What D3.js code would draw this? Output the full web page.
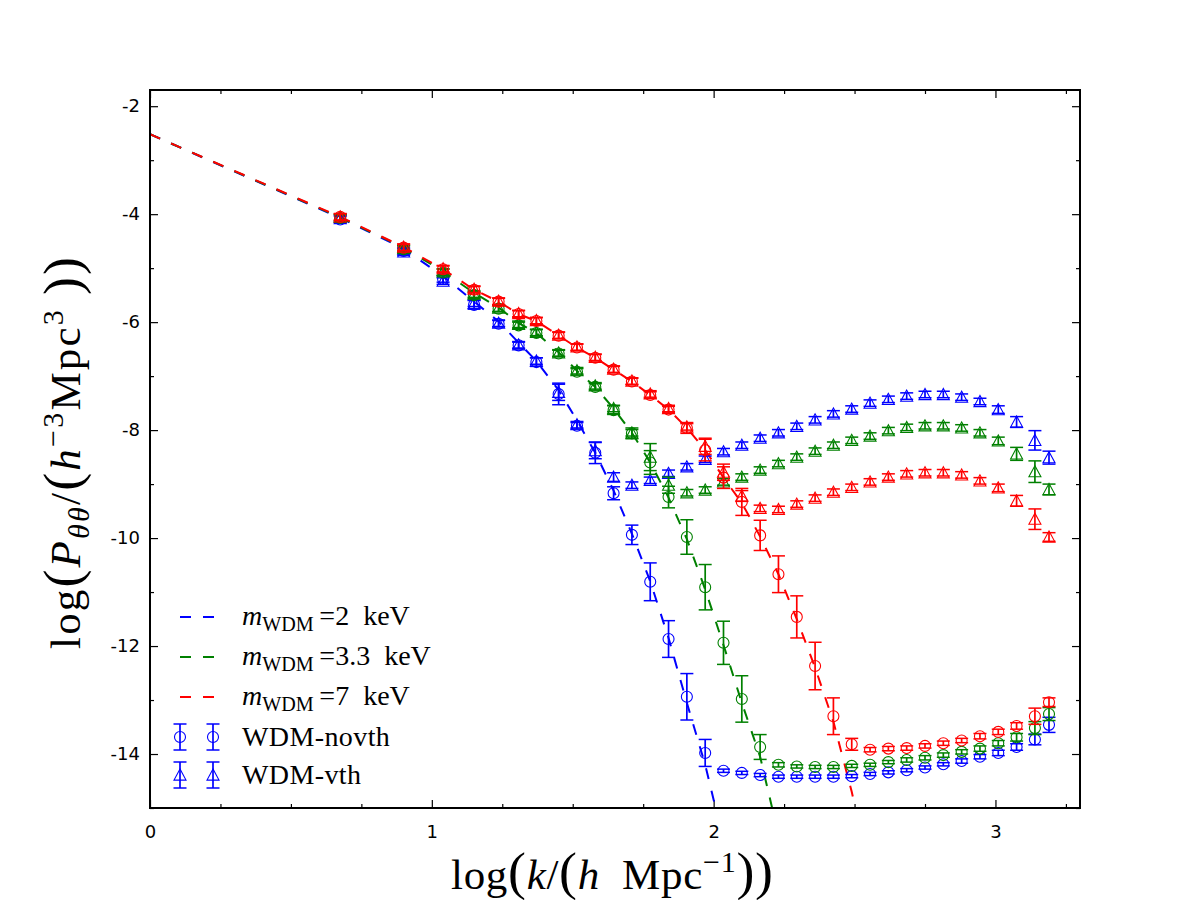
<!DOCTYPE html>
<meta charset="utf-8">
<script src="https://d3js.org/d3.v7.min.js"></script>
<style>
  body { margin: 0; background: #fff; }
</style>
<div id="chart"></div>
<script>

// log(k) positions of the measured bins
var kx = [0.675, 0.90, 1.04, 1.15, 1.237, 1.308, 1.371, 1.45, 1.515, 1.58, 1.645, 1.71, 1.775, 1.84, 1.905, 1.97,
  2.035, 2.10, 2.165, 2.23, 2.295, 2.36, 2.425, 2.49, 2.555, 2.62, 2.685, 2.75, 2.815, 2.88, 2.945, 3.01, 3.075, 3.14, 3.19];

// WDM-novth (circles)
var novth2 = [-4.10, -4.68, -5.20, -5.68, -6.03, -6.43, -6.74, -7.33, -7.92, -8.42, -9.17, -9.94, -10.81, -11.87, -12.94, -13.98,
  -14.31, -14.35, -14.39, -14.42, -14.42, -14.42, -14.42, -14.41, -14.37, -14.34, -14.30, -14.25, -14.19, -14.13, -14.05, -13.98, -13.87, -13.73, -13.46];
var novth2Err = [0.06, 0.06, 0.06, 0.08, 0.06, 0.06, 0.08, 0.2, 0.06, 0.2, 0.12, 0.18, 0.35, 0.34, 0.43, 0.25,
  0.03, 0.03, 0.03, 0.03, 0.03, 0.03, 0.03, 0.03, 0.03, 0.03, 0.03, 0.03, 0.03, 0.04, 0.04, 0.05, 0.06, 0.1, 0.14];
var novth33 = [-4.07, -4.65, -5.08, -5.50, -5.75, -6.06, -6.20, -6.58, -6.92, -7.20, -7.63, -8.06, -8.60, -9.24, -9.98, -10.91,
  -11.94, -12.98, -13.87, -14.20, -14.23, -14.24, -14.24, -14.22, -14.20, -14.15, -14.11, -14.07, -14.02, -13.96, -13.90, -13.80, -13.69, -13.52, -13.26];
var novth33Err = [0.06, 0.06, 0.06, 0.06, 0.06, 0.06, 0.06, 0.06, 0.06, 0.06, 0.08, 0.1, 0.22, 0.2, 0.32, 0.42,
  0.4, 0.43, 0.23, 0.04, 0.03, 0.03, 0.03, 0.03, 0.03, 0.03, 0.04, 0.04, 0.04, 0.04, 0.05, 0.05, 0.07, 0.12, 0.12];
var novth7 = [-4.05, -4.62, -5.02, -5.40, -5.62, -5.85, -5.98, -6.25, -6.47, -6.66, -6.88, -7.10, -7.35, -7.62, -7.96, -8.37,
  -8.88, -9.33, -9.95, -10.67, -11.46, -12.37, -13.30, -13.82, -13.92, -13.90, -13.89, -13.85, -13.80, -13.75, -13.67, -13.59, -13.48, -13.30, -13.04];
var novth7Err = [0.06, 0.06, 0.06, 0.06, 0.06, 0.06, 0.06, 0.06, 0.06, 0.06, 0.06, 0.06, 0.06, 0.06, 0.1, 0.2,
  0.2, 0.25, 0.28, 0.34, 0.39, 0.44, 0.34, 0.11, 0.04, 0.04, 0.04, 0.04, 0.04, 0.04, 0.05, 0.05, 0.06, 0.15, 0.08];

// WDM-vth (triangles)
var vth2 = [-4.08, -4.70, -5.24, -5.65, -6.02, -6.42, -6.72, -7.30, -7.90, -8.38, -8.87, -9.02, -8.93, -8.80, -8.68, -8.54,
  -8.40, -8.28, -8.15, -8.05, -7.93, -7.81, -7.70, -7.61, -7.50, -7.43, -7.37, -7.34, -7.34, -7.39, -7.47, -7.62, -7.85, -8.19, -8.51];
var vth2Err = [0.06, 0.06, 0.06, 0.06, 0.06, 0.06, 0.06, 0.15, 0.06, 0.15, 0.08, 0.06, 0.06, 0.06, 0.06, 0.06,
  0.06, 0.06, 0.06, 0.06, 0.06, 0.06, 0.06, 0.06, 0.06, 0.06, 0.06, 0.06, 0.06, 0.06, 0.06, 0.07, 0.1, 0.18, 0.12];
var vth33 = [-4.06, -4.64, -5.07, -5.48, -5.74, -6.04, -6.19, -6.57, -6.90, -7.18, -7.60, -8.05, -8.50, -9.02, -9.16, -9.11,
  -8.96, -8.87, -8.74, -8.62, -8.50, -8.39, -8.28, -8.19, -8.11, -8.01, -7.95, -7.92, -7.92, -7.96, -8.05, -8.20, -8.44, -8.77, -9.10];
var vth33Err = [0.06, 0.06, 0.06, 0.06, 0.06, 0.06, 0.06, 0.06, 0.06, 0.06, 0.06, 0.06, 0.25, 0.15, 0.06, 0.06,
  0.06, 0.06, 0.06, 0.06, 0.06, 0.06, 0.06, 0.06, 0.06, 0.06, 0.06, 0.06, 0.06, 0.06, 0.06, 0.07, 0.12, 0.2, 0.1];
var vth7 = [-4.05, -4.61, -5.01, -5.39, -5.61, -5.84, -5.97, -6.24, -6.46, -6.65, -6.87, -7.09, -7.33, -7.60, -7.94, -8.30,
  -8.78, -9.22, -9.45, -9.47, -9.37, -9.26, -9.15, -9.06, -8.96, -8.87, -8.81, -8.79, -8.79, -8.83, -8.94, -9.07, -9.31, -9.65, -9.98];
var vth7Err = [0.06, 0.06, 0.06, 0.06, 0.06, 0.06, 0.06, 0.06, 0.06, 0.06, 0.06, 0.06, 0.06, 0.06, 0.06, 0.15,
  0.15, 0.1, 0.06, 0.06, 0.06, 0.06, 0.06, 0.06, 0.06, 0.06, 0.06, 0.06, 0.06, 0.06, 0.06, 0.07, 0.1, 0.19, 0.08];

// dashed model curves
var lineX = [0, 0.675, 0.90, 1.04, 1.15, 1.237, 1.308, 1.371, 1.45, 1.515, 1.58, 1.645, 1.71, 1.775, 1.84, 1.905, 1.97,
  2.035, 2.10, 2.165, 2.23, 2.295, 2.36, 2.425, 2.49, 2.555];
var model2 = [-2.52, -4.07, -4.64, -5.15, -5.62, -5.99, -6.38, -6.72, -7.26, -7.82, -8.42, -9.12, -9.92, -10.8, -11.85, -13.05, -14.2,
  -15.6];
var model33 = [-2.52, -4.06, -4.62, -5.06, -5.46, -5.73, -6.02, -6.2, -6.56, -6.9, -7.2, -7.6, -8.05, -8.6, -9.25, -10.02, -10.95,
  -11.98, -13.05, -14.05, -15.5];
var model7 = [-2.52, -4.05, -4.61, -5.02, -5.4, -5.62, -5.85, -5.98, -6.25, -6.47, -6.66, -6.88, -7.1, -7.35, -7.62, -7.96, -8.37,
  -8.88, -9.35, -9.97, -10.67, -11.5, -12.4, -13.4, -14.7, -16.2];

var massLabels = ["2", "3.3", "7"];
var colors = ["#0000ff", "#008000", "#ff0000"];

var xMajor = [0, 1, 2, 3];
var xMinor = [0.25, 0.5, 0.75, 1.25, 1.5, 1.75, 2.25, 2.5, 2.75, 3.25];
var yMajor = [-14, -12, -10, -8, -6, -4, -2];
var yMinor = [-15, -13, -11, -9, -7, -5, -3];

var margin = {top: 90, right: 120, bottom: 92, left: 150},
    width = 1200 - margin.left - margin.right,
    height = 900 - margin.top - margin.bottom;

var svg = d3.select("#chart")
  .append("svg")
    .attr("width", 1200)
    .attr("height", 900)
  .append("g")
    .attr("transform", "translate(" + margin.left + "," + margin.top + ")");

var x = d3.scaleLinear().domain([0, 3.3]).range([0, width]);
var y = d3.scaleLinear().domain([-15, -1.7]).range([height, 0]);

svg.append("clipPath").attr("id", "clip")
  .append("rect").attr("width", width).attr("height", height);

// axes with inward ticks on all four sides
function styleAxis(g) {
  g.select(".domain").remove();
  g.selectAll(".tick line").attr("stroke", "#000").attr("stroke-width", 1.2);
  g.selectAll("text").attr("font-family", "DejaVu Sans").attr("font-size", "18px").attr("fill", "#000");
}
svg.append("g").attr("transform", "translate(0," + height + ")")
  .call(d3.axisBottom(x).tickValues(xMajor).tickSize(-8).tickPadding(17).tickFormat(d3.format("d")))
  .call(styleAxis);
svg.append("g").attr("transform", "translate(0," + height + ")")
  .call(d3.axisBottom(x).tickValues(xMinor).tickSize(-4).tickFormat(""))
  .call(styleAxis);
svg.append("g")
  .call(d3.axisTop(x).tickValues(xMajor).tickSize(-8).tickFormat(""))
  .call(styleAxis);
svg.append("g")
  .call(d3.axisTop(x).tickValues(xMinor).tickSize(-4).tickFormat(""))
  .call(styleAxis);
svg.append("g")
  .call(d3.axisLeft(y).tickValues(yMajor).tickSize(-8).tickPadding(10).tickFormat(function(d) { return String(d); }))
  .call(styleAxis);
svg.append("g")
  .call(d3.axisLeft(y).tickValues(yMinor).tickSize(-4).tickFormat(""))
  .call(styleAxis);
svg.append("g").attr("transform", "translate(" + width + ",0)")
  .call(d3.axisRight(y).tickValues(yMajor).tickSize(-8).tickFormat(""))
  .call(styleAxis);
svg.append("g").attr("transform", "translate(" + width + ",0)")
  .call(d3.axisRight(y).tickValues(yMinor).tickSize(-4).tickFormat(""))
  .call(styleAxis);

var plot = svg.append("g").attr("clip-path", "url(#clip)");

// model lines
var line = d3.line()
  .x(function(d) { return x(d[0]); })
  .y(function(d) { return y(d[1]); });

[model2, model33, model7].forEach(function(m, i) {
  plot.append("path")
    .datum(m.map(function(v, j) { return [lineX[j], v]; }))
    .attr("d", line)
    .attr("fill", "none")
    .attr("stroke", colors[i])
    .attr("stroke-width", 2)
    .attr("stroke-dasharray", "11,12");
});

// error bars + markers
var circleR = 5.5, tri = 6, cap = 6.5;
function trianglePath(cx, cy) {
  return "M" + cx + "," + (cy - tri) + "L" + (cx - tri) + "," + (cy + tri * 0.85) + "L" + (cx + tri) + "," + (cy + tri * 0.85) + "Z";
}
function drawErrorbars(g, vals, errs, color, shape) {
  var pts = g.append("g").selectAll("g")
    .data(vals.map(function(v, i) { return {x: kx[i], y: v, e: errs[i]}; }))
    .enter().append("g")
      .attr("stroke", color)
      .attr("fill", "none");
  pts.append("line")
    .attr("x1", function(d) { return x(d.x); })
    .attr("x2", function(d) { return x(d.x); })
    .attr("y1", function(d) { return y(d.y - d.e); })
    .attr("y2", function(d) { return y(d.y + d.e); })
    .attr("stroke-width", 1.7);
  [-1, 1].forEach(function(s) {
    pts.append("line")
      .attr("x1", function(d) { return x(d.x) - cap; })
      .attr("x2", function(d) { return x(d.x) + cap; })
      .attr("y1", function(d) { return y(d.y + s * d.e); })
      .attr("y2", function(d) { return y(d.y + s * d.e); })
      .attr("stroke-width", 1.5);
  });
  if (shape === "circle") {
    pts.append("circle")
      .attr("cx", function(d) { return x(d.x); })
      .attr("cy", function(d) { return y(d.y); })
      .attr("r", circleR)
      .attr("stroke-width", 1.1);
  } else {
    pts.append("path")
      .attr("d", function(d) { return trianglePath(x(d.x), y(d.y)); })
      .attr("stroke-width", 1.1);
  }
}

var series = [
  [novth2, novth2Err, 0, "circle"], [vth2, vth2Err, 0, "triangle"],
  [novth33, novth33Err, 1, "circle"], [vth33, vth33Err, 1, "triangle"],
  [novth7, novth7Err, 2, "circle"], [vth7, vth7Err, 2, "triangle"]
];
series.forEach(function(s) { drawErrorbars(plot, s[0], s[1], colors[s[2]], s[3]); });

// frame
svg.append("rect")
  .attr("width", width).attr("height", height)
  .attr("fill", "none").attr("stroke", "#000").attr("stroke-width", 2);

// math-like labels
function mathText(t, parts, size) {
  parts.forEach(function(p) {
    var ts = t.append("tspan").text(p.t)
      .attr("font-size", (p.s || 1) * size + "px")
      .attr("font-style", p.i ? "italic" : "normal");
    if (p.dy) ts.attr("dy", p.dy);
  });
}

var xl = svg.append("text")
  .attr("x", width / 2 - 3).attr("y", height + 81)
  .attr("text-anchor", "middle")
  .attr("font-family", "Liberation Serif")
  .attr("textLength", 322).attr("lengthAdjust", "spacing");
mathText(xl, [{t: "log"}, {t: "(", s: 1.25}, {t: "k", i: 1}, {t: "/"}, {t: "(", s: 1.25}, {t: "h", i: 1},
  {t: "\u2002Mpc"}, {t: "\u22121", s: 0.7, dy: -17}, {t: ")", s: 1.25, dy: 17}, {t: ")", s: 1.25}], 43);

var yl = svg.append("text")
  .attr("transform", "translate(" + (-70) + "," + (height / 2 + 4) + ") rotate(-90)")
  .attr("text-anchor", "middle")
  .attr("font-family", "Liberation Serif")
  .attr("textLength", 392).attr("lengthAdjust", "spacing");
mathText(yl, [{t: "log"}, {t: "(", s: 1.25}, {t: "P", i: 1}, {t: "\u03b8\u03b8", i: 1, s: 0.7, dy: 9}, {t: "/", dy: -9},
  {t: "(", s: 1.25}, {t: "h", i: 1}, {t: "\u22123", s: 0.7, dy: -17}, {t: "Mpc", dy: 17}, {t: "3", s: 0.7, dy: -17},
  {t: "\u2009)", s: 1.25, dy: 17}, {t: ")", s: 1.25}], 43);

// legend
var legend = svg.append("g").attr("transform", "translate(30,527)");
massLabels.forEach(function(lab, i) {
  var row = legend.append("g").attr("transform", "translate(0," + (i * 40) + ")");
  row.append("line").attr("x1", 0).attr("x2", 35).attr("y1", 0).attr("y2", 0)
    .attr("stroke", colors[i]).attr("stroke-width", 2).attr("stroke-dasharray", "11,12");
  var t = row.append("text").attr("x", 62).attr("y", 8).attr("font-family", "Liberation Serif");
  mathText(t, [{t: "m", i: 1}, {t: "WDM", s: 0.72, dy: 6}, {t: "\u2009=", dy: -6},
    {t: lab + "\u2002keV"}], 28);
});
["WDM-novth", "WDM-vth"].forEach(function(lab, i) {
  var row = legend.append("g").attr("transform", "translate(0," + (120 + i * 38) + ")")
    .attr("stroke", colors[0]).attr("fill", "none");
  [0, 33].forEach(function(px) {
    row.append("line").attr("x1", px).attr("x2", px).attr("y1", -13).attr("y2", 13).attr("stroke-width", 1.7);
    row.append("line").attr("x1", px - cap).attr("x2", px + cap).attr("y1", -13).attr("y2", -13).attr("stroke-width", 1.5);
    row.append("line").attr("x1", px - cap).attr("x2", px + cap).attr("y1", 13).attr("y2", 13).attr("stroke-width", 1.5);
    if (i === 0) row.append("circle").attr("cx", px).attr("cy", 0).attr("r", circleR).attr("stroke-width", 1.1);
    else row.append("path").attr("d", trianglePath(px, 0)).attr("stroke-width", 1.1);
  });
  row.append("text").attr("x", 62).attr("y", 9).attr("stroke", "none").attr("fill", "#000")
    .attr("font-family", "Liberation Serif").attr("font-size", "28px").attr("letter-spacing", "0.4px").text(lab);
});
</script>
